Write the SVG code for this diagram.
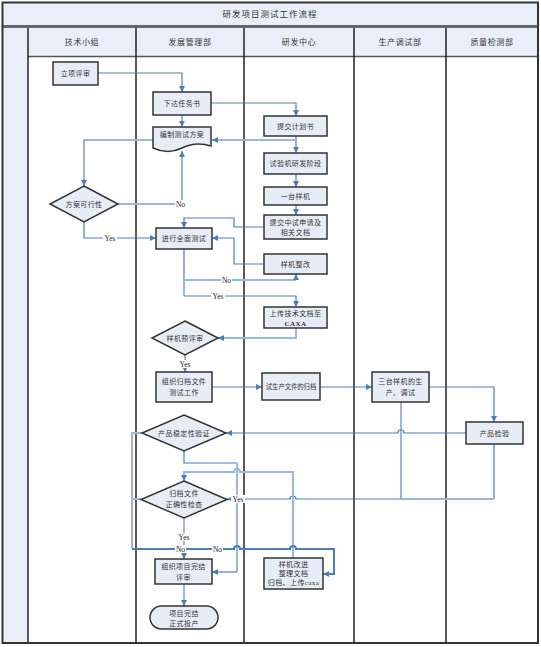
<svg xmlns="http://www.w3.org/2000/svg" width="541" height="647" viewBox="0 0 541 647">
<style>
.cn{font-family:"Liberation Serif","Noto Sans CJK SC",serif;font-size:7px;fill:#333;text-anchor:middle;letter-spacing:0.4px}
.hd{font-size:8px;letter-spacing:0.6px}
.tt{font-size:8.5px;letter-spacing:1px}
.box{fill:#e7edf7;stroke:#333;stroke-width:1.5}
.c1{fill:none;stroke:#4a7ebb;stroke-width:1.2}
.c2{fill:none;stroke:#9ab8dc;stroke-width:2}
.c3{fill:none;stroke:#4a7ebb;stroke-width:2}
.lbl{font-family:"Liberation Serif",serif;font-size:7.5px;fill:#222;text-anchor:middle}
.bg{fill:#fff}
.lane{stroke:#222;stroke-width:1.5}
</style>
<defs>
<marker id="ar" markerWidth="6" markerHeight="6" refX="6" refY="3" orient="auto" markerUnits="userSpaceOnUse"><path d="M0,0 L6,3 L0,6 z" fill="#4a7ebb"/></marker>
</defs>
<rect width="541" height="647" fill="#fff"/>
<g id="frame">
<rect x="2" y="2" width="536" height="24" fill="#e9eef8"/>
<rect x="28" y="28" width="510" height="28" fill="#e9eef8"/>
<rect x="2" y="28" width="26" height="615" fill="#e9eef8"/>
<line x1="2" y1="26.5" x2="538" y2="26.5" stroke="#666" stroke-width="3"/>
<line x1="28" y1="56.5" x2="538" y2="56.5" stroke="#555" stroke-width="1.5"/>
<line class="lane" x1="28" y1="28" x2="28" y2="643"/>
<line class="lane" x1="136" y1="28" x2="136" y2="643"/>
<line class="lane" x1="244" y1="28" x2="244" y2="643"/>
<line class="lane" x1="354" y1="28" x2="354" y2="643"/>
<line class="lane" x1="446" y1="28" x2="446" y2="643"/>
<rect x="2.5" y="2.5" width="535.5" height="640.5" fill="none" stroke="#333" stroke-width="2"/>
<text class="cn tt" x="270" y="17">研发项目测试工作流程</text>
<text class="cn hd" x="82" y="45">技术小组</text>
<text class="cn hd" x="190" y="45">发展管理部</text>
<text class="cn hd" x="299" y="45">研发中心</text>
<text class="cn hd" x="400" y="45">生产调试部</text>
<text class="cn hd" x="492" y="45">质量检测部</text>
</g>
<g id="connectors">
<path class="c1" d="M98,73 H182 V92" marker-end="url(#ar)"/>
<path class="c1" d="M182,115 V127" marker-end="url(#ar)"/>
<path class="c1" d="M211,103 H296 V116" marker-end="url(#ar)"/>
<path class="c1" d="M296,136 V153" marker-end="url(#ar)"/>
<path class="c2" d="M296,140 H212" marker-end="url(#ar)"/>
<path class="c2" d="M153,140 H84 V186" marker-end="url(#ar)"/>
<path class="c2" d="M118,204 H182"/>
<path class="c1" d="M182,204 V151" marker-end="url(#ar)"/>
<path class="c1" d="M84,222 V238 H156" marker-end="url(#ar)"/>
<path class="c1" d="M296,174 V187" marker-end="url(#ar)"/>
<path class="c1" d="M296,205 V215" marker-end="url(#ar)"/>
<path class="c1" d="M264,227 H234 V218 H184 V228" marker-end="url(#ar)"/>
<path class="c1" d="M264,264 H234 V238 H212" marker-end="url(#ar)"/>
<path class="c1" d="M184,249 V280"/>
<path class="c2" d="M184,280 H296"/>
<path class="c1" d="M296,280 V274" marker-end="url(#ar)"/>
<path class="c2" d="M184,280 V296"/>
<path class="c1" d="M184,296 H296 V307" marker-end="url(#ar)"/>
<path class="c2" d="M296,328 V338 H218" marker-end="url(#ar)"/>
<path class="c2" d="M185,355 V372" marker-end="url(#ar)"/>
<path class="c1" d="M212,387 H262" marker-end="url(#ar)"/>
<path class="c1" d="M320,387 H372" marker-end="url(#ar)"/>
<path class="c1" d="M429,387 H494 V422" marker-end="url(#ar)"/>
<path class="c2" d="M401,402 V499"/>
<path class="c1" d="M466,433 H404 A3,3 0 0 0 398,433 H226" marker-end="url(#ar)"/>
<path class="c1" d="M494,444 V499"/>
<path class="c2" d="M494,499 H401"/>
<path class="c1" d="M401,499 H296 A3,3 0 0 0 290,499 H227" marker-end="url(#ar)"/>
<path class="c1" d="M184,451 V463 H237"/>
<path class="c2" d="M237,463 V572"/>
<path class="c1" d="M237,572 H212" marker-end="url(#ar)"/>
<path class="c2" d="M293,558 V472 H240 A3,3 0 0 0 234,472 H184 V481" marker-end="url(#ar)"/>
<path class="c2" d="M184,518 V559" marker-end="url(#ar)"/>
<path class="c2" d="M142,433 H132 V549"/>
<path class="c2" d="M141,499 H132"/>
<path class="c3" d="M132,549 H234 A3,3 0 0 1 240,549 H290 A3,3 0 0 1 296,549 H334 V574 H323" marker-end="url(#ar)"/>
<path class="c2" d="M184,584 V606" marker-end="url(#ar)"/>
<rect class="bg" x="175" y="200" width="11" height="8"/><text class="lbl" x="180.5" y="206.5">No</text>
<rect class="bg" x="103" y="234" width="14" height="8"/><text class="lbl" x="110" y="240.5">Yes</text>
<rect class="bg" x="221" y="276" width="11" height="8"/><text class="lbl" x="226.5" y="282.5">No</text>
<rect class="bg" x="211" y="292" width="14" height="8"/><text class="lbl" x="218" y="298.5">Yes</text>
<rect class="bg" x="178" y="360" width="14" height="8"/><text class="lbl" x="185" y="366.5">Yes</text>
<rect class="bg" x="231" y="495" width="14" height="8"/><text class="lbl" x="238" y="501.5">Yes</text>
<rect class="bg" x="177" y="533" width="14" height="8"/><text class="lbl" x="184" y="539.5">Yes</text>
<rect class="bg" x="175" y="545" width="11" height="8"/><text class="lbl" x="180.5" y="551.5">No</text>
<rect class="bg" x="212" y="545" width="11" height="8"/><text class="lbl" x="217.5" y="551.5">No</text>
</g>
<g id="n1"><rect class="box" x="53" y="62" width="45" height="23"/><text class="cn" x="75.5" y="76">立项评审</text></g>
<g id="n2"><rect class="box" x="153" y="92" width="58" height="23"/><text class="cn" x="182" y="106">下达任务书</text></g>
<g id="n3"><path class="box" d="M153,127 H211 V146 Q196,141 182,148 Q168,155 153,148 Z"/><text class="cn" x="182" y="137">编制测试方案</text></g>
<g id="n4"><rect class="box" x="264" y="116" width="63" height="20"/><text class="cn" x="295.5" y="128.5">提交计划书</text></g>
<g id="n5"><rect class="box" x="264" y="153" width="63" height="21"/><text class="cn" x="295.5" y="166">试验机研发阶段</text></g>
<g id="n6"><rect class="box" x="264" y="187" width="63" height="18"/><text class="cn" x="295.5" y="198.5">一台样机</text></g>
<g id="n7"><rect class="box" x="264" y="215" width="63" height="24"/><text class="cn" x="295.5" y="225">提交中试申请及</text><text class="cn" x="295.5" y="235">相关文档</text></g>
<g id="n8"><rect class="box" x="264" y="254" width="63" height="20"/><text class="cn" x="295.5" y="266.5">样机整改</text></g>
<g id="n9"><rect class="box" x="264" y="307" width="63" height="21"/><text class="cn" x="295.5" y="315.5">上传技术文档至</text><text class="cn" x="295.5" y="325.5" font-weight="bold">CAXA</text></g>
<g id="d1"><polygon class="box" points="84,186 118,204 84,222 50,204"/><text class="cn" x="84" y="206.5">方案可行性</text></g>
<g id="n10"><rect class="box" x="156" y="228" width="56" height="21"/><text class="cn" x="184" y="241">进行全面测试</text></g>
<g id="d2"><polygon class="box" points="185,321 218,338 185,355 152,338"/><text class="cn" x="185" y="340.5">样机预评审</text></g>
<g id="n11"><rect class="box" x="156" y="372" width="56" height="30"/><text class="cn" x="184" y="384">组织归档文件</text><text class="cn" x="184" y="395">测试工作</text></g>
<g id="n12"><rect class="box" x="262" y="373" width="58" height="27"/><text class="cn" x="291" y="389" style="font-size:6.3px;letter-spacing:0">试生产文件的归档</text></g>
<g id="n13"><rect class="box" x="372" y="372" width="57" height="30"/><text class="cn" x="400.5" y="384">三台样机的生</text><text class="cn" x="400.5" y="395">产、调试</text></g>
<g id="n14"><rect class="box" x="466" y="422" width="57" height="22"/><text class="cn" x="494.5" y="435.5">产品检验</text></g>
<g id="d3"><polygon class="box" points="184,415 226,433 184,451 142,433"/><text class="cn" x="184" y="435.5">产品稳定性验证</text></g>
<g id="d4"><polygon class="box" points="184,481 227,499.5 184,518 141,499.5"/><text class="cn" x="184" y="496">归档文件</text><text class="cn" x="184" y="507">正确性检查</text></g>
<g id="n15"><rect class="box" x="155" y="559" width="57" height="25"/><text class="cn" x="183.5" y="569">组织项目完结</text><text class="cn" x="183.5" y="580">评审</text></g>
<g id="t1"><rect class="box" x="150" y="606" width="68" height="23" rx="11.5"/><text class="cn" x="184" y="615.5">项目完结</text><text class="cn" x="184" y="626">正式投产</text></g>
<g id="n16"><rect class="box" x="264" y="558" width="59" height="31"/><text class="cn" x="293.5" y="566.5">样机改进</text><text class="cn" x="293.5" y="575.5">整理文档</text><text class="cn" x="293.5" y="584.5">归档、上传caxa</text></g>
</svg>
